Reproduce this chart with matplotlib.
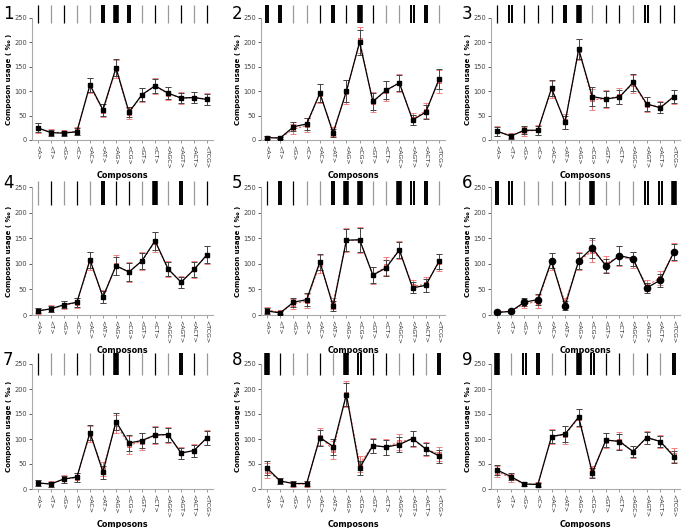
import matplotlib
matplotlib.use("Agg")
import matplotlib.pyplot as plt
import numpy as np

composons = ["<A>", "<T>", "<G>", "<C>", "<AC>", "<AT>", "<AG>", "<CG>",
             "<GT>", "<CT>", "<AGC>", "<AGT>", "<ACT>", "<TCG>"]

# black series (mean, error) and red series (mean, error) per panel
black_1 = [25, 15, 14, 17, 113, 62, 148, 57, 93, 111, 96, 86, 87, 83]
red_1 = [24, 16, 15, 18, 112, 60, 145, 55, 93, 110, 95, 86, 87, 84]
err_1 = [9, 6, 5, 7, 14, 12, 17, 10, 13, 15, 12, 11, 11, 12]

black_2 = [5, 4, 27, 33, 96, 14, 100, 200, 79, 102, 117, 41, 57, 125]
red_2 = [5, 4, 22, 30, 95, 18, 98, 205, 78, 101, 117, 43, 60, 120]
err_2 = [3, 2, 9, 13, 18, 8, 22, 25, 18, 19, 17, 11, 14, 21]

black_3 = [18, 8, 20, 20, 106, 36, 186, 89, 84, 88, 118, 74, 66, 89]
red_3 = [18, 9, 18, 20, 104, 38, 185, 83, 84, 90, 115, 72, 68, 89]
err_3 = [9, 5, 8, 9, 16, 14, 20, 20, 16, 15, 17, 14, 11, 13]

black_4 = [8, 12, 20, 25, 108, 35, 96, 84, 106, 145, 90, 64, 89, 118]
red_4 = [8, 12, 19, 24, 105, 36, 97, 84, 106, 143, 90, 64, 89, 118]
err_4 = [5, 6, 7, 9, 16, 12, 18, 18, 16, 18, 14, 11, 15, 16]

black_5 = [8, 4, 25, 30, 104, 17, 146, 147, 78, 92, 127, 53, 58, 105]
red_5 = [10, 5, 22, 27, 100, 22, 146, 146, 78, 95, 127, 56, 60, 103]
err_5 = [6, 3, 9, 12, 16, 10, 21, 23, 15, 16, 16, 11, 13, 15]

black_6 = [5, 7, 25, 30, 106, 18, 106, 131, 96, 116, 110, 53, 68, 123]
red_6 = [6, 7, 22, 26, 104, 24, 105, 125, 100, 115, 107, 58, 72, 123]
err_6 = [3, 3, 8, 11, 15, 9, 16, 20, 14, 18, 14, 10, 13, 16]

black_7 = [12, 10, 20, 24, 113, 34, 135, 92, 97, 108, 109, 72, 77, 103]
red_7 = [12, 10, 20, 23, 110, 40, 130, 88, 95, 108, 108, 72, 77, 103]
err_7 = [6, 5, 7, 9, 15, 13, 17, 16, 15, 16, 14, 11, 12, 14]

black_8 = [42, 16, 11, 11, 103, 85, 189, 42, 87, 84, 89, 101, 80, 66]
red_8 = [37, 16, 10, 10, 105, 78, 190, 50, 87, 84, 94, 100, 80, 70]
err_8 = [14, 6, 5, 5, 16, 16, 23, 14, 14, 15, 15, 15, 12, 13]

black_9 = [38, 25, 10, 9, 105, 110, 144, 32, 98, 95, 75, 103, 95, 65]
red_9 = [35, 22, 10, 10, 105, 108, 142, 36, 97, 97, 74, 103, 95, 68]
err_9 = [10, 7, 4, 4, 13, 16, 17, 10, 14, 16, 11, 12, 11, 12]

# barcode glyphs: 0 gray line, 1 black line, 2 double line, 3 block
code_1 = [1, 0, 1, 0, 0, 2, 3, 2, 0, 1, 0, 1, 0, 1]
code_2 = [2, 2, 0, 0, 1, 2, 1, 3, 1, 0, 0, 2, 2, 0]
code_3 = [1, 2, 1, 1, 1, 2, 3, 0, 1, 1, 0, 2, 1, 1]
code_4 = [0, 1, 0, 1, 0, 2, 1, 1, 0, 3, 0, 2, 0, 1]
code_5 = [1, 2, 1, 0, 0, 2, 3, 3, 0, 0, 3, 2, 2, 0]
code_6 = [2, 2, 0, 0, 0, 1, 0, 3, 0, 0, 0, 2, 2, 3]
code_7 = [1, 0, 0, 1, 0, 1, 3, 1, 0, 1, 0, 2, 1, 0]
code_8 = [3, 1, 0, 0, 1, 0, 3, 2, 1, 1, 0, 1, 0, 2]
code_9 = [3, 0, 2, 2, 0, 1, 3, 2, 1, 1, 0, 1, 0, 2]

panels = [
    (black_1, red_1, err_1, code_1), (black_2, red_2, err_2, code_2),
    (black_3, red_3, err_3, code_3), (black_4, red_4, err_4, code_4),
    (black_5, red_5, err_5, code_5), (black_6, red_6, err_6, code_6),
    (black_7, red_7, err_7, code_7), (black_8, red_8, err_8, code_8),
    (black_9, red_9, err_9, code_9),
]

fig = plt.figure(figsize=(6.85, 5.28), dpi=100)
W, H = 685.0, 528.0

col_left = [32, 261, 491]
col_width = [181, 184, 189]
row_top = [18, 187, 364]
row_height = [122, 128, 125]
bar_span = [(0.96, 1.11), (0.86, 1.05), (0.91, 1.09)]

x = np.arange(len(composons))

for k, (blk, red, err, code) in enumerate(panels):
    r, c = divmod(k, 3)
    ax = fig.add_axes([col_left[c] / W, 1 - (row_top[r] + row_height[r]) / H,
                       col_width[c] / W, row_height[r] / H])
    red_err = [e * 1.1 for e in err]
    ax.errorbar(x, red, yerr=red_err, color="#ee5a55", ls=(0, (2, 1.5)), lw=0.8,
                marker="s", ms=3.2, mfc="#f6a8a8", mec="#ee5a55", mew=0.6,
                ecolor="#f07070", elinewidth=0.7, capsize=2.2, capthick=0.7, zorder=2)
    ms = 4.5 if k == 5 else 3
    mk = "o" if k == 5 else "s"
    ax.errorbar(x, blk, yerr=err, color="black", lw=0.9, marker=mk, ms=ms,
                mfc="black", mec="black", ecolor="#444444", elinewidth=0.7,
                capsize=2.2, capthick=0.7, zorder=3)

    ax.set_xlim(-0.45, 13.45)
    ax.set_ylim(0, 250)
    ax.set_yticks([0, 50, 100, 150, 200, 250])
    ax.set_xticks(x)
    ax.set_xticklabels(composons, rotation=-90, fontsize=4.5, color="#222222")
    ax.tick_params(axis="y", labelsize=4.8, colors="#444444", length=2, width=0.6, pad=1.5)
    ax.tick_params(axis="x", length=2, width=0.6, colors="#888888", labelcolor="#222222", pad=1.5)
    for s in ["top", "right"]:
        ax.spines[s].set_visible(False)
    for s in ["left", "bottom"]:
        ax.spines[s].set_color("#aaaaaa")
        ax.spines[s].set_linewidth(0.8)
    ax.set_xlabel("Composons", fontsize=5.8, fontweight="bold", labelpad=1.5)
    ax.set_ylabel("Composon usage ( \u2030 )", fontsize=5, fontweight="bold", labelpad=2)

    # barcode strip above the plot
    y0, y1 = bar_span[r]
    tr = ax.get_xaxis_transform()
    for i, g in enumerate(code):
        if g == 0:
            ax.vlines(i, y0, y1, transform=tr, colors="#999999", lw=0.9, clip_on=False)
        elif g == 1:
            ax.vlines(i, y0, y1, transform=tr, colors="black", lw=0.9, clip_on=False)
        elif g == 2:
            ax.vlines([i - 0.09, i + 0.09], y0, y1, transform=tr, colors="black",
                      lw=1.4, clip_on=False)
        else:
            ax.vlines(i, y0, y1, transform=tr, colors="black", lw=4.0,
                      clip_on=False)

    fig.text((col_left[c] - 29) / W, 1 - (row_top[r] - 13) / H, str(k + 1),
             fontsize=12, va="top", ha="left")

fig.savefig("out.png", dpi=100)
